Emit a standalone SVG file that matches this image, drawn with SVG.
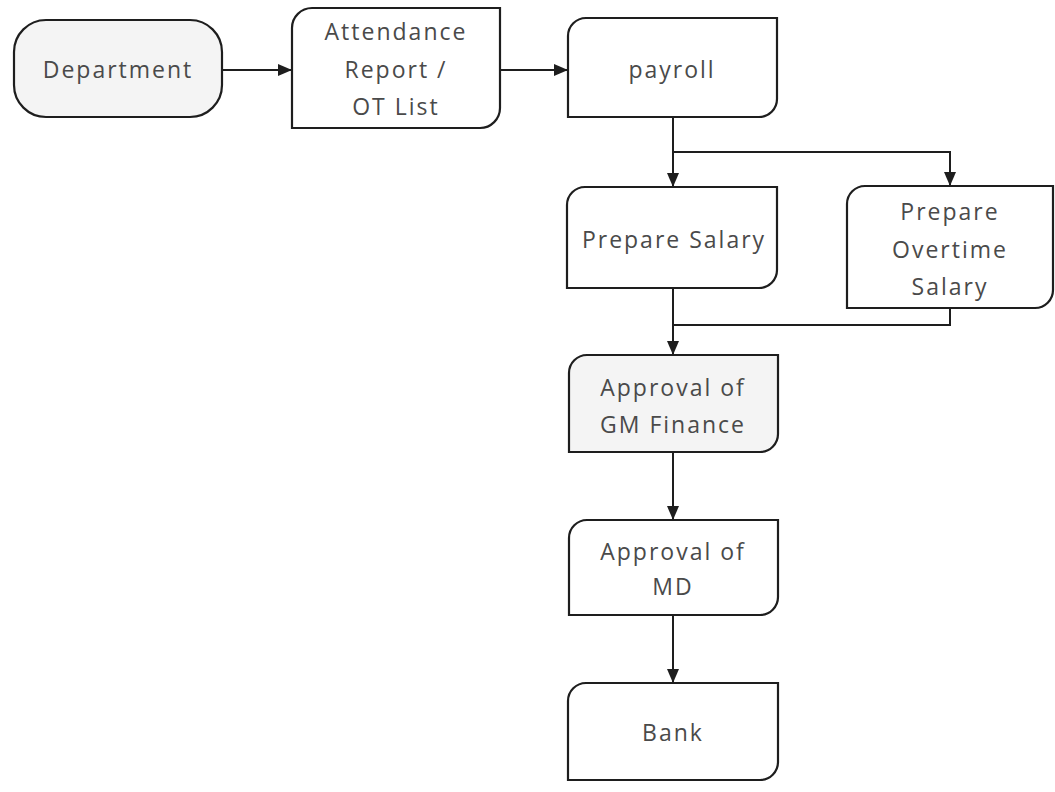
<svg xmlns="http://www.w3.org/2000/svg" width="1055" height="792" viewBox="0 0 1055 792">
  <style>
    .box { fill: #ffffff; stroke: #1e1e1e; stroke-width: 2.2; }
    .shaded { fill: #f4f4f4; }
    .label { font-family: "Open Sans", "Liberation Sans", sans-serif; font-size: 23px; letter-spacing: 2px; fill: #4a4a4a; text-anchor: middle; }
    .wire { fill: none; stroke: #1e1e1e; stroke-width: 2; }
  </style>
  <defs>
    <marker id="arrow" markerWidth="14" markerHeight="14" refX="13" refY="7" orient="auto" markerUnits="userSpaceOnUse">
      <path d="M0,1 L14,7 L0,13 Z" fill="#1e1e1e"/>
    </marker>
  </defs>
  <rect width="1055" height="792" fill="#ffffff"/>

  <!-- connectors -->
  <g id="connectors">
    <path class="wire" d="M222,70 H291" marker-end="url(#arrow)"/>
    <path class="wire" d="M500,70 H567" marker-end="url(#arrow)"/>
    <path class="wire" d="M673,117 V186" marker-end="url(#arrow)"/>
    <path class="wire" d="M673,152 H950 V185" marker-end="url(#arrow)"/>
    <path class="wire" d="M673,288 V354" marker-end="url(#arrow)"/>
    <path class="wire" d="M950,308 V325 H673"/>
    <path class="wire" d="M673,452 V519" marker-end="url(#arrow)"/>
    <path class="wire" d="M673,615 V682" marker-end="url(#arrow)"/>
  </g>

  <!-- nodes -->
  <g id="department">
    <rect class="box shaded" x="14" y="20" width="208" height="97" rx="32" ry="32"/>
    <text class="label" x="118" y="78">Department</text>
  </g>
  <g id="attendance">
    <path class="box" d="M312,8 H500 V108 A20,20 0 0 1 480,128 H292 V28 A20,20 0 0 1 312,8 Z"/>
    <text class="label" x="396" y="40">Attendance</text>
    <text class="label" x="396" y="78">Report /</text>
    <text class="label" x="396" y="115">OT List</text>
  </g>
  <g id="payroll">
    <path class="box" d="M586,18 H777 V99 A18,18 0 0 1 759,117 H568 V36 A18,18 0 0 1 586,18 Z"/>
    <text class="label" x="672" y="78">payroll</text>
  </g>
  <g id="prepare-salary">
    <path class="box" d="M585,187 H777 V270 A18,18 0 0 1 759,288 H567 V205 A18,18 0 0 1 585,187 Z"/>
    <text class="label" x="674" y="248">Prepare Salary</text>
  </g>
  <g id="prepare-overtime">
    <path class="box" d="M865,186 H1053 V290 A18,18 0 0 1 1035,308 H847 V204 A18,18 0 0 1 865,186 Z"/>
    <text class="label" x="950" y="220">Prepare</text>
    <text class="label" x="950" y="258">Overtime</text>
    <text class="label" x="950" y="295">Salary</text>
  </g>
  <g id="approval-gm">
    <path class="box shaded" d="M587,355 H778 V434 A18,18 0 0 1 760,452 H569 V373 A18,18 0 0 1 587,355 Z"/>
    <text class="label" x="673" y="396">Approval of</text>
    <text class="label" x="673" y="433">GM Finance</text>
  </g>
  <g id="approval-md">
    <path class="box" d="M587,520 H778 V597 A18,18 0 0 1 760,615 H569 V538 A18,18 0 0 1 587,520 Z"/>
    <text class="label" x="673" y="560">Approval of</text>
    <text class="label" x="673" y="595">MD</text>
  </g>
  <g id="bank">
    <path class="box" d="M586,683 H778 V762 A18,18 0 0 1 760,780 H568 V701 A18,18 0 0 1 586,683 Z"/>
    <text class="label" x="673" y="741">Bank</text>
  </g>
</svg>
